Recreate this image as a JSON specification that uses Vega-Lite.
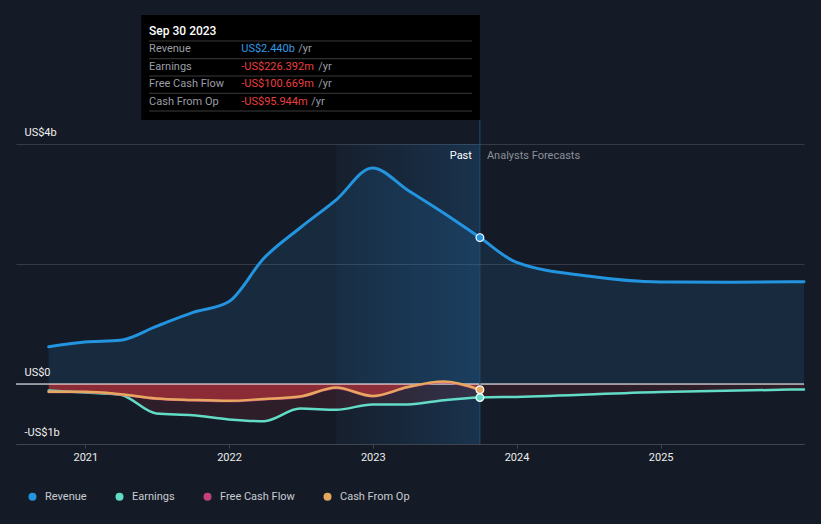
{
  "$schema": "https://vega.github.io/schema/vega-lite/v6.json",
  "width": 788,
  "height": 429,
  "autosize": {"type": "none"},
  "padding": {"left": 16, "top": 15, "right": 17, "bottom": 80},
  "background": "#151b26",
  "config": {
    "view": {"stroke": null},
    "font": "Roboto"
  },
  "datasets": {
    "series": [
      {"date": "2020-09-30", "series": "Revenue", "value": 0.62},
      {"date": "2020-12-31", "series": "Revenue", "value": 0.70},
      {"date": "2021-03-31", "series": "Revenue", "value": 0.73},
      {"date": "2021-06-30", "series": "Revenue", "value": 0.96},
      {"date": "2021-09-30", "series": "Revenue", "value": 1.19},
      {"date": "2021-12-31", "series": "Revenue", "value": 1.37},
      {"date": "2022-03-31", "series": "Revenue", "value": 2.10},
      {"date": "2022-06-30", "series": "Revenue", "value": 2.60},
      {"date": "2022-09-30", "series": "Revenue", "value": 3.07},
      {"date": "2022-12-31", "series": "Revenue", "value": 3.60},
      {"date": "2023-03-31", "series": "Revenue", "value": 3.23},
      {"date": "2023-06-30", "series": "Revenue", "value": 2.85},
      {"date": "2023-09-30", "series": "Revenue", "value": 2.44},
      {"date": "2023-12-31", "series": "Revenue", "value": 2.03},
      {"date": "2024-06-30", "series": "Revenue", "value": 1.80},
      {"date": "2024-12-31", "series": "Revenue", "value": 1.70},
      {"date": "2025-06-30", "series": "Revenue", "value": 1.695},
      {"date": "2025-12-31", "series": "Revenue", "value": 1.705},
      {"date": "2020-09-30", "series": "Earnings", "value": -0.11},
      {"date": "2020-12-31", "series": "Earnings", "value": -0.14},
      {"date": "2021-03-31", "series": "Earnings", "value": -0.18},
      {"date": "2021-06-30", "series": "Earnings", "value": -0.49},
      {"date": "2021-09-30", "series": "Earnings", "value": -0.52},
      {"date": "2021-12-31", "series": "Earnings", "value": -0.59},
      {"date": "2022-03-31", "series": "Earnings", "value": -0.62},
      {"date": "2022-06-30", "series": "Earnings", "value": -0.41},
      {"date": "2022-09-30", "series": "Earnings", "value": -0.43},
      {"date": "2022-12-31", "series": "Earnings", "value": -0.34},
      {"date": "2023-03-31", "series": "Earnings", "value": -0.34},
      {"date": "2023-06-30", "series": "Earnings", "value": -0.27},
      {"date": "2023-09-30", "series": "Earnings", "value": -0.226},
      {"date": "2023-12-31", "series": "Earnings", "value": -0.215},
      {"date": "2024-12-31", "series": "Earnings", "value": -0.135},
      {"date": "2025-12-31", "series": "Earnings", "value": -0.09},
      {"date": "2020-09-30", "series": "Free Cash Flow", "value": -0.135},
      {"date": "2020-12-31", "series": "Free Cash Flow", "value": -0.135},
      {"date": "2021-03-31", "series": "Free Cash Flow", "value": -0.175},
      {"date": "2021-06-30", "series": "Free Cash Flow", "value": -0.245},
      {"date": "2021-09-30", "series": "Free Cash Flow", "value": -0.27},
      {"date": "2021-12-31", "series": "Free Cash Flow", "value": -0.285},
      {"date": "2022-03-31", "series": "Free Cash Flow", "value": -0.255},
      {"date": "2022-06-30", "series": "Free Cash Flow", "value": -0.215},
      {"date": "2022-09-30", "series": "Free Cash Flow", "value": -0.065},
      {"date": "2022-12-31", "series": "Free Cash Flow", "value": -0.205},
      {"date": "2023-03-31", "series": "Free Cash Flow", "value": -0.055},
      {"date": "2023-06-30", "series": "Free Cash Flow", "value": 0.035},
      {"date": "2023-09-30", "series": "Free Cash Flow", "value": -0.1007},
      {"date": "2020-09-30", "series": "Cash From Op", "value": -0.13},
      {"date": "2020-12-31", "series": "Cash From Op", "value": -0.13},
      {"date": "2021-03-31", "series": "Cash From Op", "value": -0.17},
      {"date": "2021-06-30", "series": "Cash From Op", "value": -0.24},
      {"date": "2021-09-30", "series": "Cash From Op", "value": -0.265},
      {"date": "2021-12-31", "series": "Cash From Op", "value": -0.28},
      {"date": "2022-03-31", "series": "Cash From Op", "value": -0.25},
      {"date": "2022-06-30", "series": "Cash From Op", "value": -0.21},
      {"date": "2022-09-30", "series": "Cash From Op", "value": -0.06},
      {"date": "2022-12-31", "series": "Cash From Op", "value": -0.20},
      {"date": "2023-03-31", "series": "Cash From Op", "value": -0.05},
      {"date": "2023-06-30", "series": "Cash From Op", "value": 0.04},
      {"date": "2023-09-30", "series": "Cash From Op", "value": -0.0959}
    ],
    "tip": [
      {"label": "Revenue", "val": "US$2.440b", "pos": 5.583},
      {"label": "Earnings", "val": "-US$226.392m", "pos": 5.288},
      {"label": "Free Cash Flow", "val": "-US$100.669m", "pos": 4.995},
      {"label": "Cash From Op", "val": "-US$95.944m", "pos": 4.705}
    ],
    "seps": [{"s": 5.717}, {"s": 5.422}, {"s": 5.133}, {"s": 4.845}, {"s": 4.55}],
    "one": [{"a": 1}]
  },
  "layer": [
    {
      "data": {"name": "series"},
      "transform": [{"filter": "datum.series == 'Revenue'"}],
      "mark": {"type": "area", "interpolate": "monotone", "color": "#2394df", "opacity": 0.13},
      "encoding": {
        "x": {
          "field": "date", "type": "temporal",
          "scale": {"type": "utc", "domain": [{"year": 2020, "month": 7, "date": 9, "utc": true}, {"year": 2025, "month": 12, "date": 31, "utc": true}]},
          "axis": {
            "title": null, "format": "%Y", "tickCount": {"interval": "year", "step": 1},
            "grid": false, "domainColor": "#3f4550", "tickColor": "#3f4550", "tickSize": 4,
            "labelColor": "#ececec", "labelFontSize": 11, "labelPadding": 3
          }
        },
        "y": {"field": "value", "type": "quantitative",
          "scale": {"domain": [-1, 6.15], "nice": false, "zero": false},
          "axis": {
            "title": null, "values": [-1, 0, 2, 4], "domain": false, "ticks": false, "grid": true,
            "gridColor": "#353b46", "gridWidth": 1,
            "labelExpr": "datum.value == 4 ? 'US$4b' : datum.value == 0 ? 'US$0' : datum.value == -1 ? '-US$1b' : ''",
            "labelAlign": "left", "labelPadding": -8, "labelBaseline": "bottom", "labelOffset": -7,
            "labelColor": "#f0f0f0", "labelFontSize": 11
          }
        },
        "y2": {"datum": 0}
      }
    },
    {
      "data": {"name": "one"},
      "mark": {"type": "rect", "color": {"gradient": "linear", "x1": 0, "y1": 0, "x2": 1, "y2": 0, "stops": [{"offset": 0, "color": "rgba(42,134,214,0.04)"}, {"offset": 1, "color": "rgba(42,134,214,0.22)"}]}},
      "encoding": {
        "x": {"datum": {"year": 2022, "month": 9, "date": 30, "utc": true}, "type": "temporal"},
        "x2": {"datum": {"year": 2023, "month": 9, "date": 30, "utc": true}},
        "y": {"datum": 4, "type": "quantitative"},
        "y2": {"datum": -1}
      }
    },
    {
      "data": {"name": "series"},
      "transform": [{"filter": "datum.series == 'Earnings'"}],
      "mark": {"type": "area", "interpolate": "monotone", "color": "#d8343c", "opacity": 0.13},
      "encoding": {
        "x": {"field": "date", "type": "temporal"},
        "y": {"field": "value", "type": "quantitative"},
        "y2": {"datum": 0}
      }
    },
    {
      "data": {"name": "series"},
      "transform": [{"filter": "datum.series == 'Free Cash Flow'"}],
      "mark": {"type": "area", "interpolate": "monotone", "color": "#bd333c", "opacity": 0.65},
      "encoding": {
        "x": {"field": "date", "type": "temporal"},
        "y": {"field": "value", "type": "quantitative"},
        "y2": {"datum": 0}
      }
    },
    {
      "data": {"name": "one"},
      "mark": {"type": "rule", "color": "#ffffff", "strokeWidth": 1.2},
      "encoding": {"y": {"datum": 0, "type": "quantitative"}}
    },
    {
      "data": {"name": "one"},
      "mark": {"type": "rule", "color": "#1f4e7a", "strokeWidth": 1},
      "encoding": {
        "x": {"datum": {"year": 2023, "month": 9, "date": 30, "utc": true}, "type": "temporal"},
        "y": {"datum": 4.4, "type": "quantitative"},
        "y2": {"datum": -1}
      }
    },
    {
      "data": {"name": "series"},
      "mark": {"type": "line", "interpolate": "monotone", "strokeCap": "round"},
      "encoding": {
        "x": {"field": "date", "type": "temporal"},
        "y": {"field": "value", "type": "quantitative"},
        "color": {"field": "series", "type": "nominal",
          "scale": {"domain": ["Revenue", "Earnings", "Free Cash Flow", "Cash From Op"], "range": ["#2394df", "#62dcc6", "#c2407f", "#e5a85e"]},
          "legend": {
            "title": null, "orient": "none", "legendX": 11, "legendY": 476, "direction": "horizontal",
            "symbolType": "circle", "symbolSize": 64, "symbolStrokeWidth": 0,
            "labelColor": "#c9ccd1", "labelFontSize": 11, "labelOffset": 7,
            "columnPadding": 27, "padding": 0,
            "encode": {"symbols": {"update": {"fill": {"scale": "color", "field": "value"}, "fillOpacity": {"value": 1}, "strokeWidth": {"value": 0}}}}
          }
        },
        "strokeWidth": {"condition": {"test": "datum.series == 'Revenue'", "value": 3}, "value": 2.5}
      }
    },
    {
      "data": {"name": "series"},
      "transform": [{"filter": "utcyear(datum.date) == 2023 && utcmonth(datum.date) == 8 && datum.series != 'Free Cash Flow'"}],
      "mark": {"type": "circle", "size": 60, "opacity": 1, "stroke": "#ffffff", "strokeWidth": 1.2},
      "encoding": {
        "x": {"field": "date", "type": "temporal"},
        "y": {"field": "value", "type": "quantitative"},
        "color": {"field": "series", "type": "nominal"}
      }
    },
    {
      "data": {"name": "one"},
      "mark": {"type": "text", "text": "Past", "align": "right", "baseline": "middle", "dx": -8, "color": "#ffffff", "fontSize": 11},
      "encoding": {"x": {"datum": {"year": 2023, "month": 9, "date": 30, "utc": true}, "type": "temporal"}, "y": {"datum": 3.8, "type": "quantitative"}}
    },
    {
      "data": {"name": "one"},
      "mark": {"type": "text", "text": "Analysts Forecasts", "align": "left", "baseline": "middle", "dx": 7, "color": "#8c9098", "fontSize": 11},
      "encoding": {"x": {"datum": {"year": 2023, "month": 9, "date": 30, "utc": true}, "type": "temporal"}, "y": {"datum": 3.8, "type": "quantitative"}}
    },
    {
      "data": {"name": "one"},
      "mark": {"type": "rect", "color": "#000000", "opacity": 1},
      "encoding": {
        "x": {"datum": {"year": 2021, "month": 5, "date": 23, "utc": true}, "type": "temporal"},
        "x2": {"datum": {"year": 2023, "month": 9, "date": 30, "utc": true}},
        "y": {"datum": 6.15, "type": "quantitative"},
        "y2": {"datum": 4.4}
      }
    },
    {
      "data": {"name": "seps"},
      "mark": {"type": "rule", "color": "#3a3a3a", "strokeWidth": 1},
      "encoding": {
        "x": {"datum": {"year": 2021, "month": 6, "date": 12, "utc": true}, "type": "temporal"},
        "x2": {"datum": {"year": 2023, "month": 9, "date": 10, "utc": true}},
        "y": {"field": "s", "type": "quantitative"}
      }
    },
    {
      "data": {"name": "one"},
      "mark": {"type": "text", "text": "Sep 30 2023", "align": "left", "baseline": "middle", "color": "#ffffff", "fontSize": 12, "fontWeight": 500},
      "encoding": {"x": {"datum": {"year": 2021, "month": 6, "date": 12, "utc": true}, "type": "temporal"}, "y": {"datum": 5.888, "type": "quantitative"}}
    },
    {
      "data": {"name": "tip"},
      "mark": {"type": "text", "align": "left", "baseline": "middle", "color": "#9a9ea5", "fontSize": 11},
      "encoding": {"x": {"datum": {"year": 2021, "month": 6, "date": 12, "utc": true}, "type": "temporal"}, "y": {"field": "pos", "type": "quantitative"}, "text": {"field": "label"}}
    },
    {
      "data": {"name": "tip"},
      "mark": {"type": "text", "align": "left", "baseline": "middle", "fontSize": 11},
      "encoding": {
        "x": {"datum": {"year": 2022, "month": 2, "date": 1, "utc": true}, "type": "temporal"},
        "y": {"field": "pos", "type": "quantitative"},
        "text": {"field": "val"},
        "color": {"condition": {"test": "datum.label == 'Revenue'", "value": "#2f9ae6"}, "value": "#ea3f3f"}
      }
    },
    {
      "data": {"name": "one"},
      "mark": {"type": "text", "text": "/yr", "align": "left", "baseline": "middle", "dx": 57, "color": "#9a9ea5", "fontSize": 11},
      "encoding": {"x": {"datum": {"year": 2022, "month": 2, "date": 1, "utc": true}, "type": "temporal"}, "y": {"datum": 5.583, "type": "quantitative"}}
    },
    {
      "data": {"name": "one"},
      "mark": {"type": "text", "text": "/yr", "align": "left", "baseline": "middle", "dx": 77, "color": "#9a9ea5", "fontSize": 11},
      "encoding": {"x": {"datum": {"year": 2022, "month": 2, "date": 1, "utc": true}, "type": "temporal"}, "y": {"datum": 5.288, "type": "quantitative"}}
    },
    {
      "data": {"name": "one"},
      "mark": {"type": "text", "text": "/yr", "align": "left", "baseline": "middle", "dx": 77, "color": "#9a9ea5", "fontSize": 11},
      "encoding": {"x": {"datum": {"year": 2022, "month": 2, "date": 1, "utc": true}, "type": "temporal"}, "y": {"datum": 4.995, "type": "quantitative"}}
    },
    {
      "data": {"name": "one"},
      "mark": {"type": "text", "text": "/yr", "align": "left", "baseline": "middle", "dx": 70, "color": "#9a9ea5", "fontSize": 11},
      "encoding": {"x": {"datum": {"year": 2022, "month": 2, "date": 1, "utc": true}, "type": "temporal"}, "y": {"datum": 4.705, "type": "quantitative"}}
    }
  ]
}
